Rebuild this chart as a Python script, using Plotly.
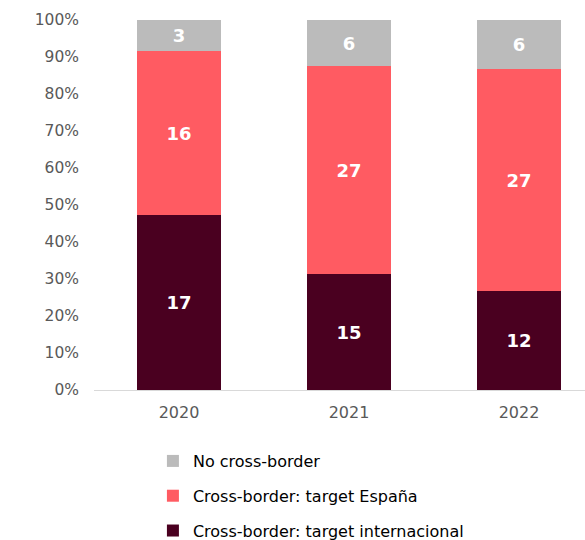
import plotly.graph_objects as go

years = ["2020", "2021", "2022"]
internacional = [17, 15, 12]
espana = [16, 27, 27]
no_cross = [3, 6, 6]

series = [
    ("Cross-border: target internacional", internacional, "#4a0020"),
    ("Cross-border: target España", espana, "#ff5b62"),
    ("No cross-border", no_cross, "#bbbbbb"),
]

totals = [a + b + c for a, b, c in zip(internacional, espana, no_cross)]

fig = go.Figure()
for i, (name, vals, color) in enumerate(series):
    share = [v / t for v, t in zip(vals, totals)]
    fig.add_trace(go.Bar(
        x=years, y=share, name=name,
        text=[str(v) for v in vals],
        texttemplate="%{text}",
        textposition="inside", insidetextanchor="middle",
        textfont=dict(family="DejaVu Sans", size=18, color="white", weight="bold"),
        marker=dict(color=color, line=dict(width=0)),
        legendgroup=f"g{i}",
        legendrank=len(series) - i,
        hoverinfo="skip",
    ))

fig.update_layout(
    barmode="stack",
    bargap=0.505,
    width=585, height=540,
    margin=dict(l=94, r=0, t=20, b=150, autoexpand=False),
    plot_bgcolor="white", paper_bgcolor="white",
    font=dict(family="DejaVu Sans", size=15, color="#595959"),
    showlegend=True,
    legend=dict(
        traceorder="grouped", tracegroupgap=11,
        orientation="v", x=0.12, xanchor="left",
        y=-0.146, yanchor="top",
        font=dict(family="DejaVu Sans", size=16, color="#000000"),
        itemwidth=30,
    ),
    uniformtext=dict(minsize=8, mode="show"),
)
fig.update_xaxes(
    type="category", range=[-0.5, 2.388],
    showline=True, linecolor="#d9d9d9", linewidth=1,
    ticks="", ticklabelstandoff=8,
    tickfont=dict(size=16, color="#595959"),
    showgrid=False,
)
fig.update_yaxes(
    range=[0, 1], tickformat=".0%", dtick=0.1,
    showgrid=False, zeroline=False, showline=False,
    ticks="", ticklabelstandoff=14,
    tickfont=dict(size=15.5, color="#595959"),
)

fig.write_html("out.html")
